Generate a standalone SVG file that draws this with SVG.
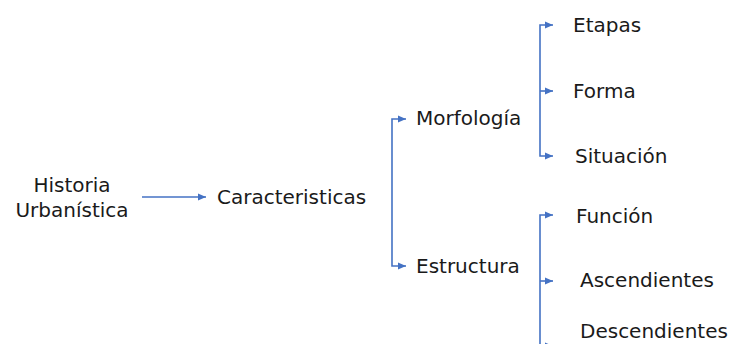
<svg xmlns="http://www.w3.org/2000/svg" width="734" height="344" viewBox="0 0 734 344">
<defs>
<marker id="ah" markerUnits="userSpaceOnUse" markerWidth="10" markerHeight="9" refX="8" refY="4.5" orient="auto">
<path d="M0,1 L8,4.5 L0,8 Z" fill="#4472C4"/>
</marker>
<style>
text{font-family:"DejaVu Sans","Liberation Sans",sans-serif;font-size:20px;fill:#1a1a1a}
.c{fill:none;stroke:#4472C4;stroke-width:1.6;marker-end:url(#ah)}
</style>
</defs>
<rect width="734" height="344" fill="#ffffff"/>
<g id="connectors">
<path class="c" d="M142,197 H206"/>
<path class="c" d="M392,192 V119 H406"/>
<path class="c" d="M392,192 V266 H406"/>
<path class="c" d="M540,91 V25 H553"/>
<path class="c" d="M540,91 H553"/>
<path class="c" d="M540,91 V156 H553"/>
<path class="c" d="M540,281 V215 H553"/>
<path class="c" d="M540,281 H553"/>
<path class="c" d="M540,281 V346 H553"/>
</g>
<g id="historia"><text x="72" y="192" text-anchor="middle">Historia</text><text x="72" y="217" text-anchor="middle">Urbanística</text></g>
<g id="caracteristicas"><text x="217" y="204">Caracteristicas</text></g>
<g id="morfologia"><text x="416" y="125">Morfología</text></g>
<g id="estructura"><text x="416" y="273">Estructura</text></g>
<g id="etapas"><text x="573" y="32">Etapas</text></g>
<g id="forma"><text x="573" y="98">Forma</text></g>
<g id="situacion"><text x="575" y="163">Situación</text></g>
<g id="funcion"><text x="576" y="223">Función</text></g>
<g id="ascendientes"><text x="580" y="287">Ascendientes</text></g>
<g id="descendientes"><text x="580" y="338">Descendientes</text></g>
</svg>
